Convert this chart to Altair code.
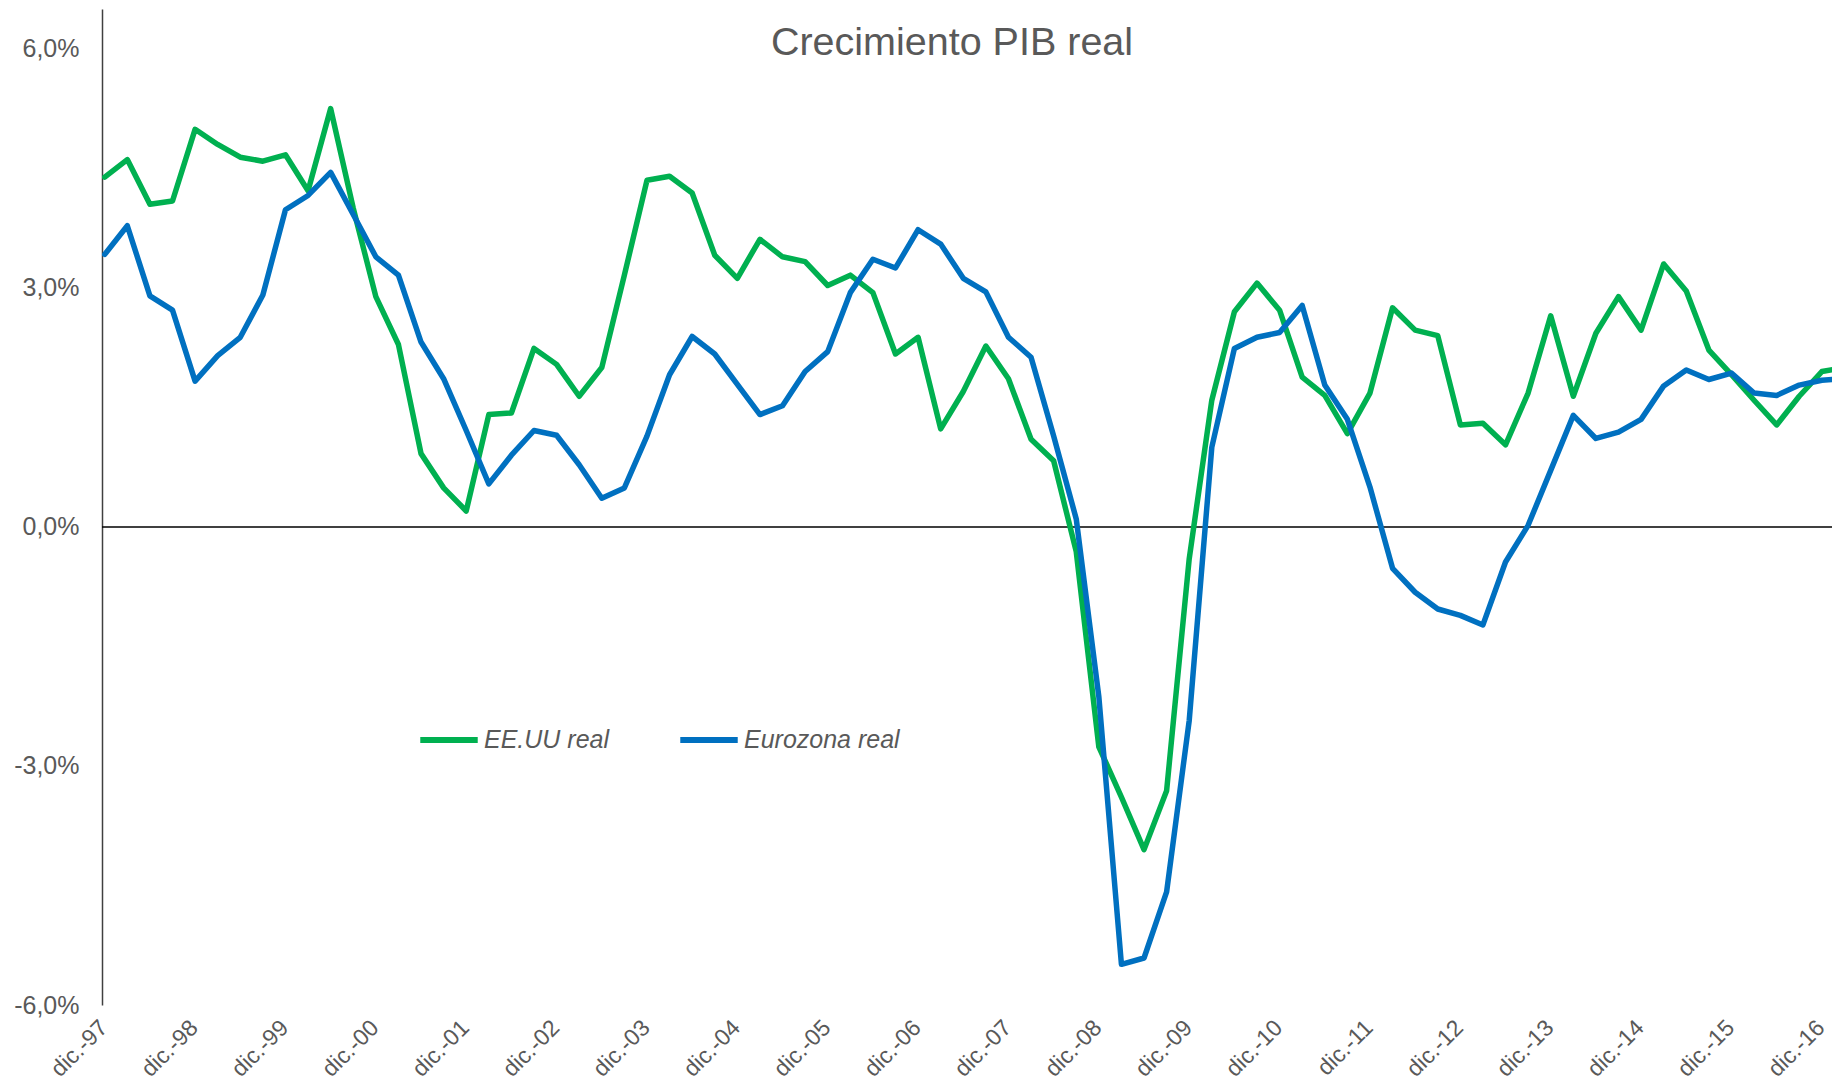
import altair as alt
import pandas as pd

# ---------------- data ----------------
years = ["97", "98", "99", "00", "01", "02", "03", "04", "05", "06",
         "07", "08", "09", "10", "11", "12", "13", "14", "15", "16"]
tick_labels = ["dic.-" + y for y in years]
tick_pos = [4 * k for k in range(len(years))]

series_names = ["EE.UU real", "Eurozona real"]
series_colors = ["#00B050", "#0070C0"]

eeuu = [4.39, 4.61, 4.05, 4.09, 4.99, 4.80, 4.64, 4.59, 4.67, 4.22,
        5.25, 4.00, 2.89, 2.29, 0.92, 0.49, 0.20, 1.41, 1.43, 2.24,
        2.04, 1.64, 2.00, 3.16, 4.35, 4.40, 4.19, 3.41, 3.12, 3.61,
        3.39, 3.33, 3.03, 3.16, 2.94, 2.17, 2.38, 1.23, 1.70, 2.27,
        1.86, 1.10, 0.83, -0.31, -2.76, -3.39, -4.05, -3.31, -0.40, 1.59,
        2.70, 3.06, 2.72, 1.88, 1.65, 1.17, 1.68, 2.75, 2.47, 2.40,
        1.28, 1.30, 1.03, 1.68, 2.65, 1.64, 2.43, 2.89, 2.47, 3.30,
        2.96, 2.22, 1.91, 1.59, 1.28, 1.64, 1.95, 2.00]

eurozona = [3.42, 3.78, 2.90, 2.72, 1.83, 2.15, 2.38, 2.91, 3.98, 4.16,
            4.45, 3.92, 3.39, 3.16, 2.32, 1.86, 1.21, 0.54, 0.90, 1.21,
            1.15, 0.78, 0.36, 0.49, 1.14, 1.91, 2.39, 2.17, 1.79, 1.41,
            1.52, 1.95, 2.20, 2.94, 3.36, 3.25, 3.73, 3.55, 3.12, 2.95,
            2.38, 2.13, 1.14, 0.10, -2.13, -5.49, -5.41, -4.58, -2.43, 1.00,
            2.24, 2.38, 2.44, 2.78, 1.78, 1.35, 0.50, -0.52, -0.82, -1.03,
            -1.11, -1.23, -0.44, 0.02, 0.71, 1.40, 1.11, 1.19, 1.35, 1.77,
            1.97, 1.85, 1.93, 1.68, 1.65, 1.78, 1.84, 1.86]

quarters = list(range(len(eeuu)))
y_ticks = [-6, -3, 0, 3, 6]

df = pd.DataFrame({
    "q": quarters + quarters,
    "v": eeuu + eurozona,
    "serie": [series_names[0]] * len(eeuu) + [series_names[1]] * len(eurozona),
})
zero_df = pd.DataFrame({"y": [0]})

# ---------------- chart ----------------
FONT = "Liberation Sans"
GRAY = "#595959"

label_js = "[" + ",".join("'" + t + "'" for t in tick_labels) + "][round(datum.value/4)]"

x_scale = alt.Scale(domain=[-0.12, 76.45], nice=False, zero=False)
y_scale = alt.Scale(domain=[-6, 6.5], nice=False, zero=False)

x_axis = alt.Axis(values=tick_pos, labelExpr=label_js, labelAngle=-45,
                  labelAlign="right", labelBaseline="top",
                  labelFontSize=23, labelFont=FONT, labelColor=GRAY,
                  labelPadding=11, labelOffset=-9, ticks=False, tickSize=0,
                  domain=False, grid=False, title=None, labelOverlap=False,
                  labelBound=False, labelFlush=False)
y_axis = alt.Axis(values=y_ticks,
                  labelExpr="(datum.value<0?'-':'') + replace(format(abs(datum.value),'.1f'),'.',',') + '%'",
                  labelFontSize=25, labelFont=FONT, labelColor=GRAY,
                  labelPadding=23, ticks=False, tickSize=0,
                  domain=True, domainColor="#404040", domainWidth=1.5,
                  grid=False, title=None)

color = alt.Color("serie:N",
                  scale=alt.Scale(domain=series_names, range=series_colors),
                  legend=alt.Legend(orient="none", legendX=315, legendY=699,
                                    direction="horizontal", title=None,
                                    symbolType="stroke", symbolSize=3300,
                                    symbolStrokeWidth=6,
                                    labelFontSize=25, labelFont=FONT,
                                    labelFontStyle="italic", labelColor=GRAY,
                                    labelOffset=3, columnPadding=58, padding=0))

base = alt.Chart(df).encode(
    x=alt.X("q:Q", scale=x_scale, axis=x_axis),
    y=alt.Y("v:Q", scale=y_scale, axis=y_axis),
    color=color,
)

line_us = base.transform_filter(alt.datum.serie == series_names[0]).mark_line(
    strokeWidth=5.5, strokeCap="round", strokeJoin="round", clip=True)
line_eu = base.transform_filter(alt.datum.serie == series_names[1]).mark_line(
    strokeWidth=5.5, strokeCap="round", strokeJoin="round", clip=True)

zero_rule = alt.Chart(zero_df).mark_rule(color="#000000", strokeWidth=1.5).encode(
    y=alt.Y("y:Q", scale=y_scale, axis=y_axis)
)

chart = alt.layer(zero_rule, line_us, line_eu).properties(
    width=1730,
    height=996,
    autosize="none",
    padding={"left": 94, "top": 1, "right": 0, "bottom": 78},
    title=alt.TitleParams("Crecimiento PIB real", fontSize=39.5, font=FONT,
                          color=GRAY, fontWeight="normal", anchor="middle",
                          baseline="middle", dx=-15, dy=41, offset=-32),
).configure(background="white").configure_view(strokeWidth=0, stroke="transparent")

chart.save("out.html", embed_options={"renderer": "svg", "actions": False})
